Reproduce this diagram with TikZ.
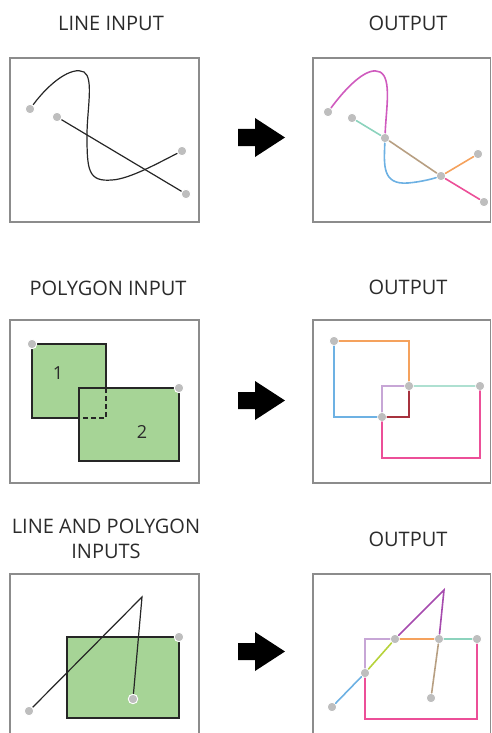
\documentclass[tikz,border=0pt]{standalone}
\usepackage{fontspec}
\setmainfont{Open Sans}
\usepackage{xcolor}
\definecolor{boxgray}{HTML}{8C8C8C}
\definecolor{dotgray}{HTML}{BEBEBE}
\definecolor{polygreen}{HTML}{A6D496}
\definecolor{titlegray}{HTML}{2B2B2B}
\definecolor{seg-magenta}{HTML}{CF5BBE}
\definecolor{seg-teal}{HTML}{8CD3BD}
\definecolor{seg-tan}{HTML}{B79F82}
\definecolor{seg-blue}{HTML}{6DB1E3}
\definecolor{seg-orange}{HTML}{F5A25D}
\definecolor{seg-pink}{HTML}{EC4F98}
\definecolor{seg-darkred}{HTML}{A7323E}
\definecolor{seg-lilac}{HTML}{C7A6D6}
\definecolor{seg-purple}{HTML}{A64BAE}
\definecolor{seg-lime}{HTML}{B6D23A}
\tikzset{
    panel-box/.style = {draw=boxgray, line width=1.3pt},
    panel-title/.style = {font=\fontsize{20}{25}\selectfont, text=titlegray, align=center, inner sep=0pt},
    poly-label/.style = {font=\fontsize{18}{20}\selectfont, text=titlegray, inner sep=0pt},
    vertex/.style = {circle, fill=dotgray, draw=white, line width=0.9pt, inner sep=0pt, minimum size=9.5pt},
    in-line/.style = {draw=black!85, line width=1.2pt},
    out-line/.style = {line width=1.6pt, line cap=round},
    poly-fill/.style = {fill=polygreen, draw=black!85, line width=1.2pt},
}

\begin{document}
\begin{tikzpicture}[x=1pt, y=-1pt]
\useasboundingbox (0,0) rectangle (492,733);
\clip (0,0) rectangle (492,733);

% titles
\node[panel-title] (t-line-in) at (111,23) {LINE INPUT};
\node[panel-title] (t-line-out) at (408,23) {OUTPUT};
\node[panel-title] (t-poly-in) at (108,288) {POLYGON INPUT};
\node[panel-title] (t-poly-out) at (408,287) {OUTPUT};
\node[panel-title] (t-both-in) at (106,539) {LINE AND POLYGON\\INPUTS};
\node[panel-title] (t-both-out) at (408,539) {OUTPUT};

% frames
\draw[panel-box] (10,58) rectangle (199,222);
\draw[panel-box] (313,58) rectangle (490.5,222);
\draw[panel-box] (10,320) rectangle (199,483);
\draw[panel-box] (313,320) rectangle (490.5,483);
\draw[panel-box] (10,574) rectangle (199,750);
\draw[panel-box] (313,574) rectangle (490.5,750);

% arrows
\foreach \ay in {137.5,400.5,651.5}
  \fill (238,\ay-8.5) -- (255,\ay-8.5) -- (255,\ay-19.5) -- (285,\ay)
    -- (255,\ay+19.5) -- (255,\ay+8.5) -- (238,\ay+8.5) -- cycle;

% line input
\node[vertex] (l-a) at (30,109) {};
\node[vertex] (l-b) at (57,117) {};
\node[vertex] (l-c) at (182,151) {};
\node[vertex] (l-d) at (186,194) {};
\draw[in-line] (l-a) .. controls (50,82) and (72,66) .. (84,72)
  .. controls (94,78) and (87,110) .. (87,135)
  .. controls (87,170) and (88,182) .. (112,180)
  .. controls (130,179) and (160,162) .. (l-c);
\draw[in-line] (l-b) -- (l-d);

% line output
\node[vertex] (o-a) at (328,112) {};
\node[vertex] (o-b) at (352,118) {};
\node[vertex] (o-x1) at (385,138) {};
\node[vertex] (o-x2) at (441,176) {};
\node[vertex] (o-c) at (478,154) {};
\node[vertex] (o-d) at (484,202) {};
\draw[out-line, seg-magenta] (o-a) .. controls (348,85) and (368,66) .. (380,72)
  .. controls (392,78) and (386,110) .. (o-x1);
\draw[out-line, seg-blue] (o-x1) .. controls (384,165) and (382,185) .. (408,183)
  .. controls (420,182) and (432,179) .. (o-x2);
\draw[out-line, seg-teal] (o-b) -- (o-x1);
\draw[out-line, seg-tan] (o-x1) -- (o-x2);
\draw[out-line, seg-orange] (o-x2) -- (o-c);
\draw[out-line, seg-pink] (o-x2) -- (o-d);

% polygon input
\draw[poly-fill] (32,344) rectangle (106,418);
\draw[poly-fill] (79,388) rectangle (179,461);
\draw[in-line, dash pattern=on 5pt off 3pt] (106,388) |- (79,418);
\node[poly-label] (p-one) at (58,373) {1};
\node[poly-label] (p-two) at (142,432) {2};
\node[vertex] (p-tl) at (32,344) {};
\node[vertex] (p-tr) at (179,388) {};

% polygon output
\node[vertex] (q-tl) at (334,341) {};
\node[vertex] (q-x1) at (409,386) {};
\node[vertex] (q-x2) at (382,417) {};
\node[vertex] (q-tr) at (480,386) {};
\draw[out-line, seg-orange] (q-tl) -| (q-x1);
\draw[out-line, seg-blue] (q-tl) |- (q-x2);
\draw[out-line, seg-lilac] (q-x2) |- (q-x1);
\draw[out-line, seg-darkred] (q-x2) -| (q-x1);
\draw[out-line, seg-teal!70] (q-x1) -- (q-tr);
\draw[out-line, seg-pink, line width=2.2pt] (q-tr) -- (480,458) -| (q-x2);

% line and polygon input
\draw[poly-fill] (67,637) rectangle (179,718);
\coordinate (r-apex) at (142,597);
\node[vertex] (r-tr) at (179,637) {};
\node[vertex] (r-start) at (29,711) {};
\node[vertex] (r-end) at (133,699) {};
\draw[in-line] (r-start) -- (r-apex) -- (r-end);

% line and polygon output
\coordinate (s-apex) at (444,590);
\node[vertex] (s-start) at (332,707) {};
\node[vertex] (s-left) at (365,673) {};
\node[vertex] (s-top1) at (395,639) {};
\node[vertex] (s-top2) at (439,639) {};
\node[vertex] (s-tr) at (477,639) {};
\node[vertex] (s-end) at (431,698) {};
\draw[out-line, seg-blue] (s-start) -- (s-left);
\draw[out-line, seg-lime] (s-left) -- (s-top1);
\draw[out-line, seg-purple] (s-top1) -- (s-apex) -- (s-top2);
\draw[out-line, seg-tan] (s-top2) -- (s-end);
\draw[out-line, seg-lilac] (s-left) |- (s-top1);
\draw[out-line, seg-orange] (s-top1) -- (s-top2);
\draw[out-line, seg-teal] (s-top2) -- (s-tr);
\draw[out-line, seg-pink] (s-tr) -- (477,719) -| (s-left);
\end{tikzpicture}
\end{document}
